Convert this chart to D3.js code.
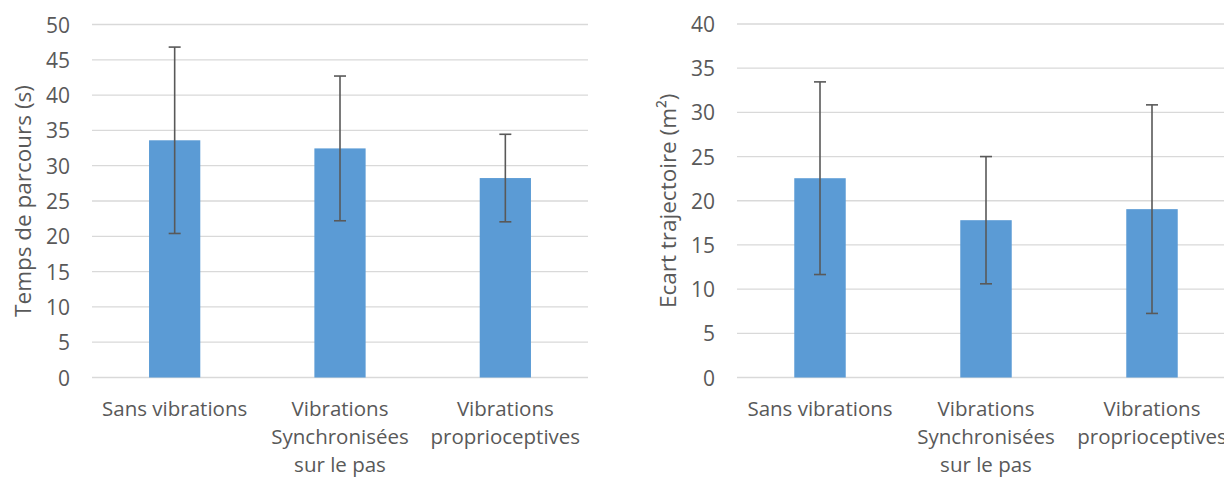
<!DOCTYPE html>
<html>
<head>
<meta charset="utf-8">
<script src="https://cdn.jsdelivr.net/npm/d3@7"></script>
<style>
  html, body { margin: 0; padding: 0; background: #fff; }
  svg { display: block; }
  text { font-family: "Open Sans", "Noto Sans", sans-serif; fill: #595959; }
</style>
</head>
<body>
<svg id="chart" width="1224" height="477"></svg>
<script>
// Conditions (shared by both panels); "\n" marks a line break in the label
const categories = ["Sans vibrations", "Vibrations\nSynchronisées\nsur le pas", "Vibrations\nproprioceptives"];

// Panel 1: travel time (s)
const timeMeans = [33.6, 32.45, 28.25];
const timeErrors = [13.2, 10.25, 6.2];
const timeTicks = [0, 5, 10, 15, 20, 25, 30, 35, 40, 45, 50];

// Panel 2: trajectory deviation (m²)
const devMeans = [22.55, 17.8, 19.05];
const devErrors = [10.9, 7.2, 11.8];
const devTicks = [0, 5, 10, 15, 20, 25, 30, 35, 40];

const svg = d3.select("#chart");

function drawPanel(opts) {
  const { left, right, top, bottom, means, errors, ticks, title, titleX } = opts;
  const g = svg.append("g");

  const x = d3.scaleBand().domain(categories).range([left, right]).padding(0);
  const y = d3.scaleLinear().domain([0, d3.max(ticks)]).range([bottom, top]);
  const barW = x.bandwidth() * 0.31;

  // horizontal gridlines
  g.selectAll("line.grid").data(ticks).join("line")
    .attr("x1", left).attr("x2", right)
    .attr("y1", d => y(d)).attr("y2", d => y(d))
    .attr("stroke", "#d9d9d9").attr("stroke-width", 1.3);

  // tick labels
  g.selectAll("text.tick").data(ticks).join("text")
    .attr("x", left - 22).attr("y", d => y(d))
    .attr("text-anchor", "end").attr("dominant-baseline", "central")
    .attr("font-size", 21).text(d => d);

  // bars
  g.selectAll("rect.bar").data(means).join("rect")
    .attr("x", (d, i) => x(categories[i]) + x.bandwidth() / 2 - barW / 2)
    .attr("width", barW)
    .attr("y", d => y(d)).attr("height", d => y(0) - y(d))
    .attr("fill", "#5b9bd5");

  // error bars
  const eb = g.selectAll("g.err").data(means).join("g")
    .attr("transform", (d, i) => `translate(${x(categories[i]) + x.bandwidth() / 2},0)`);
  eb.append("line")
    .attr("y1", (d, i) => y(d + errors[i])).attr("y2", (d, i) => y(d - errors[i]))
    .attr("stroke", "#595959").attr("stroke-width", 1.6);
  eb.append("line")
    .attr("x1", -6).attr("x2", 6)
    .attr("y1", (d, i) => y(d + errors[i])).attr("y2", (d, i) => y(d + errors[i]))
    .attr("stroke", "#595959").attr("stroke-width", 1.6);
  eb.append("line")
    .attr("x1", -6).attr("x2", 6)
    .attr("y1", (d, i) => y(d - errors[i])).attr("y2", (d, i) => y(d - errors[i]))
    .attr("stroke", "#595959").attr("stroke-width", 1.6);

  // category labels
  categories.forEach(c => {
    const t = g.append("text")
      .attr("x", x(c) + x.bandwidth() / 2).attr("y", bottom + 38.5)
      .attr("text-anchor", "middle").attr("font-size", 20.5);
    c.split("\n").forEach((line, k) => {
      t.append("tspan").attr("x", x(c) + x.bandwidth() / 2)
        .attr("dy", k === 0 ? 0 : 28).text(line);
    });
  });

  // axis title
  g.append("text")
    .attr("transform", `translate(${titleX},${(top + bottom) / 2}) rotate(-90)`)
    .attr("text-anchor", "middle").attr("dominant-baseline", "central")
    .attr("font-size", 22.5).text(title);
}

drawPanel({
  left: 92, right: 588, top: 24.5, bottom: 377.5,
  means: timeMeans, errors: timeErrors, ticks: timeTicks,
  title: "Temps de parcours (s)", titleX: 22
});

drawPanel({
  left: 737, right: 1235, top: 24, bottom: 377.5,
  means: devMeans, errors: devErrors, ticks: devTicks,
  title: "Ecart trajectoire (m²)", titleX: 667
});
</script>
</body>
</html>
